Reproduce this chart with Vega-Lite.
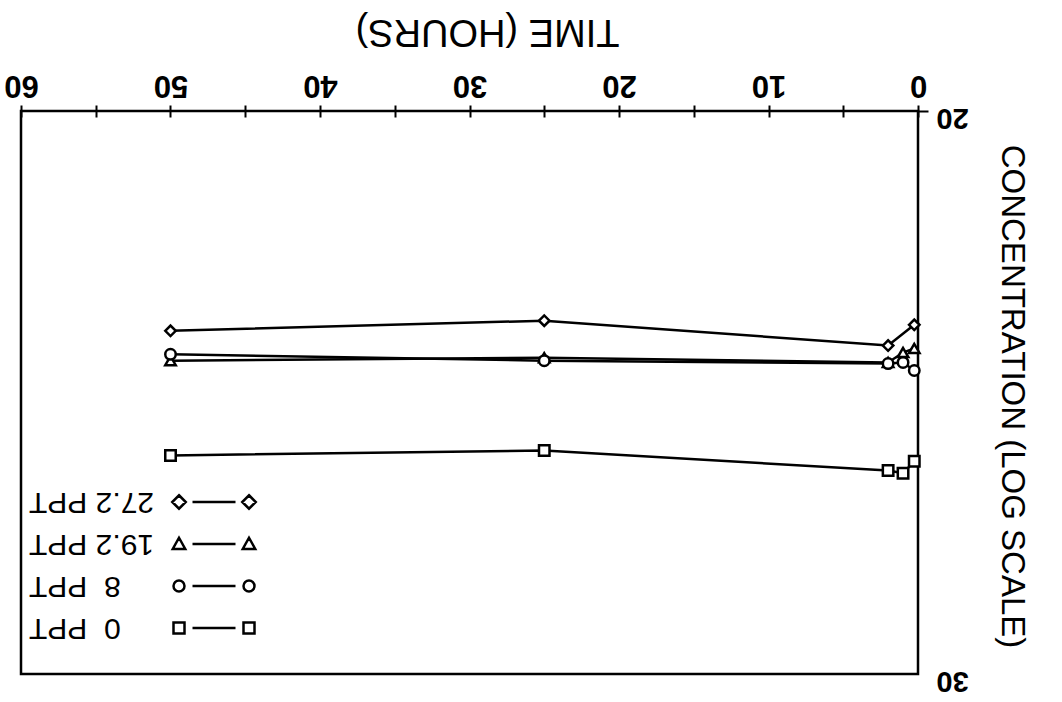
{
  "$schema": "https://vega.github.io/schema/vega-lite/v6.json",
  "width": 897,
  "height": 563,
  "autosize": "none",
  "padding": {"left": 21, "top": 111, "right": 144, "bottom": 28},
  "background": "white",
  "config": {
    "view": {"stroke": "black", "strokeWidth": 2.5},
    "font": "Liberation Sans",
    "axis": {"labelFontSize": 31, "labelFontWeight": "bold"},
    "style": {"guide-label": {"angle": 180}}
  },
  "data": {
    "values": [
      {"salinity": "27.2 PPT", "time": 0.25, "conc": 23.33},
      {"salinity": "27.2 PPT", "time": 2, "conc": 23.68},
      {"salinity": "27.2 PPT", "time": 25, "conc": 23.26},
      {"salinity": "27.2 PPT", "time": 50, "conc": 23.43},
      {"salinity": "19.2 PPT", "time": 0.25, "conc": 23.73},
      {"salinity": "19.2 PPT", "time": 1, "conc": 23.8},
      {"salinity": "19.2 PPT", "time": 2, "conc": 23.97},
      {"salinity": "19.2 PPT", "time": 25, "conc": 23.89},
      {"salinity": "19.2 PPT", "time": 50, "conc": 23.94},
      {"salinity": "8 PPT", "time": 0.25, "conc": 24.11},
      {"salinity": "8 PPT", "time": 1, "conc": 23.97},
      {"salinity": "8 PPT", "time": 2, "conc": 23.99},
      {"salinity": "8 PPT", "time": 25, "conc": 23.94},
      {"salinity": "8 PPT", "time": 50, "conc": 23.83},
      {"salinity": "0 PPT", "time": 0.25, "conc": 25.74},
      {"salinity": "0 PPT", "time": 1, "conc": 25.96},
      {"salinity": "0 PPT", "time": 2, "conc": 25.91},
      {"salinity": "0 PPT", "time": 25, "conc": 25.54},
      {"salinity": "0 PPT", "time": 50, "conc": 25.63}
    ]
  },
  "encoding": {
    "x": {
      "field": "time",
      "type": "quantitative",
      "scale": {"domain": [0, 60], "reverse": true, "nice": false, "zero": false},
      "axis": {
        "orient": "top",
        "title": "TIME (HOURS)",
        "values": [0, 5, 10, 15, 20, 25, 30, 35, 40, 45, 50, 55, 60],
        "labelExpr": "datum.value % 10 === 0 ? datum.label : ''",
        "grid": false,
        "domain": false,
        "offset": -6,
        "tickSize": 12,
        "tickWidth": 2,
        "tickColor": "black",
        "labelAngle": 180,
        "labelAlign": "center",
        "labelBaseline": "middle",
        "labelPadding": 21,
        "labelFont": "Liberation Sans",
        "labelFontSize": 31,
        "labelFontWeight": "bold",
        "labelColor": "black",
        "labelFlush": false,
        "labelOverlap": false,
        "labelBound": false,
        "titleAngle": 180,
        "titleX": 466,
        "titleY": -87,
        "titleAlign": "center",
        "titleBaseline": "middle",
        "titleFont": "Liberation Sans",
        "titleFontSize": 38,
        "titleFontWeight": "normal",
        "titleColor": "black"
      }
    },
    "y": {
      "field": "conc",
      "type": "quantitative",
      "scale": {"type": "log", "domain": [20, 30], "reverse": true, "nice": false, "zero": false},
      "axis": {
        "orient": "right",
        "title": "CONCENTRATION (LOG SCALE)",
        "values": [20, 30],
        "grid": false,
        "domain": false,
        "tickSize": 10,
        "tickWidth": 2,
        "tickColor": "black",
        "tickOpacity": {"condition": {"test": "datum.value === 30", "value": 0}, "value": 1},
        "labelAngle": 180,
        "labelAlign": "center",
        "labelBaseline": "middle",
        "labelPadding": 24,
        "labelOffset": 6,
        "labelFont": "Liberation Sans",
        "labelFontSize": 29,
        "labelFontWeight": "bold",
        "labelColor": "black",
        "labelFlush": false,
        "labelOverlap": false,
        "labelBound": false,
        "titleAngle": 90,
        "titleX": 93,
        "titleY": 285,
        "titleAlign": "center",
        "titleBaseline": "middle",
        "titleFont": "Liberation Sans",
        "titleFontSize": 33,
        "titleFontWeight": "normal",
        "titleColor": "black"
      }
    }
  },
  "layer": [
    {
      "mark": {"type": "line", "color": "black", "strokeWidth": 2.5},
      "encoding": {"detail": {"field": "salinity", "type": "nominal"}}
    },
    {
      "mark": {"type": "point", "filled": true, "fill": "white", "stroke": "black", "strokeWidth": 2.5, "size": 110, "opacity": 1},
      "encoding": {
        "shape": {
          "field": "salinity",
          "type": "nominal",
          "scale": {
            "domain": ["27.2 PPT", "19.2 PPT", "8 PPT", "0 PPT"],
            "range": ["diamond", "triangle-up", "circle", "square"]
          },
          "legend": null
        }
      }
    },
    {
      "mark": {"type": "point", "filled": false, "stroke": "black", "strokeWidth": 2.5, "strokeOpacity": 0, "fillOpacity": 0},
      "encoding": {
        "shape": {
          "field": "salinity",
          "type": "nominal",
          "scale": {
            "domain": ["27.2 PPT", "19.2 PPT", "8 PPT", "0 PPT"],
            "range": [
              "M-7,-1.35L-5.65,0L-7,1.35L-8.35,0Z M7,-1.35L8.35,0L7,1.35L5.65,0Z M-4.3,0L4.3,0",
              "M-7,-1.25L-5.75,1L-8.25,1Z M7,-1.25L8.25,1L5.75,1Z M-4.3,0L4.3,0",
              "M-5.9,0A1.1,1.1 0 1,1 -8.1,0A1.1,1.1 0 1,1 -5.9,0Z M8.1,0A1.1,1.1 0 1,1 5.9,0A1.1,1.1 0 1,1 8.1,0Z M-4.3,0L4.3,0",
              "M-8.1,-1.1L-5.9,-1.1L-5.9,1.1L-8.1,1.1Z M5.9,-1.1L8.1,-1.1L8.1,1.1L5.9,1.1Z M-4.3,0L4.3,0"
            ]
          },
          "legend": {
            "title": null,
            "orient": "none",
            "legendX": 178,
            "legendY": 376,
            "direction": "vertical",
            "padding": 0,
            "symbolSize": 100,
            "symbolStrokeColor": "black",
            "symbolStrokeWidth": 2.5,
            "symbolOpacity": 1,
            "symbolFillColor": "white",
            "rowPadding": 11,
            "labelOffset": -200,
            "labelAlign": "right",
            "labelBaseline": "middle",
            "labelFont": "Liberation Sans",
            "labelFontSize": 30,
            "labelColor": "black",
            "labelLimit": 0,
            "labelExpr": "datum.value === '8 PPT' ? '8\u00a0\u00a0PPT' : datum.value === '0 PPT' ? '0\u00a0\u00a0PPT' : datum.label"
          }
        }
      }
    }
  ],
  "resolve": {"scale": {"shape": "independent"}}
}
